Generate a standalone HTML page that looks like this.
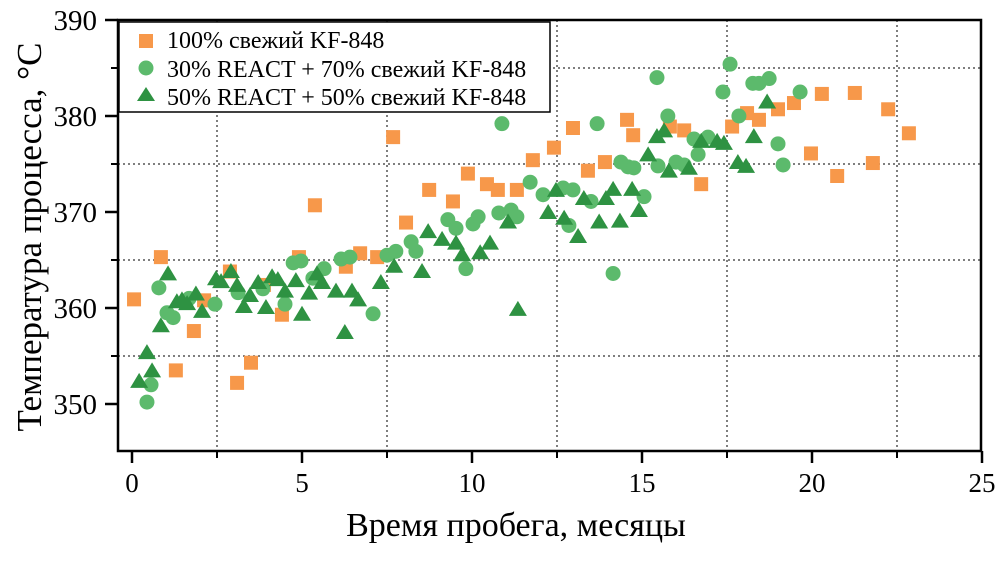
<!DOCTYPE html>
<html><head><meta charset="utf-8"><style>
body{margin:0;background:#fff;}
svg{display:block;font-family:"Liberation Serif",serif;}
</style></head><body>
<svg id="chart" width="1002" height="574" viewBox="0 0 1002 574" xmlns="http://www.w3.org/2000/svg">
<g id="grid"></g>
<g id="marks"></g>
<rect x="118" y="20" width="863" height="431" fill="none" stroke="#000" stroke-width="2.5"/>
<g id="axes"></g>
<text x="516" y="536" font-size="34" text-anchor="middle">Время пробега, месяцы</text>
<text transform="translate(41,237) rotate(-90)" font-size="35" text-anchor="middle">Температура процесса, °C</text>
<g>
<rect x="119" y="22" width="431" height="90" fill="#fff" stroke="#000" stroke-width="1.5"/>
<rect x="139" y="34" width="14" height="14" fill="#F7984A"/>
<text x="167" y="48" font-size="24">100% свежий KF-848</text>
<circle cx="146" cy="68" r="7.5" fill="#5CBA6C"/>
<text x="167" y="77" font-size="24">30% REACT + 70% свежий KF-848</text>
<polygon points="146,87 155,101 137,101" fill="#2E9242"/>
<text x="167" y="105" font-size="24">50% REACT + 50% свежий KF-848</text>
</g>
</svg>
<script>
const xTicks=[0,5,10,15,20,25];
const yTicks=[350,360,370,380,390];
const xGrid=[2.5,7.5,12.5,17.5,22.5];
const yGrid=[355,365,375,385];
const freshX=[0.06,0.85,1.29,1.82,2.12,2.88,3.09,3.5,3.88,4.41,4.91,5.38,6.29,6.71,7.21,7.68,8.06,8.74,9.44,9.88,10.44,10.76,11.32,11.79,12.41,12.97,13.41,13.91,14.56,14.74,15.82,16.24,16.74,17.65,18.09,18.44,19.0,19.47,19.97,20.29,20.74,21.26,21.79,22.24,22.85];
const freshY=[360.9,365.3,353.5,357.6,360.8,363.8,352.2,354.3,362.4,359.3,365.3,370.7,364.3,365.7,365.3,377.8,368.9,372.3,371.1,374.0,372.9,372.3,372.3,375.4,376.7,378.75,374.3,375.2,379.6,378.0,378.9,378.5,372.9,378.9,380.3,379.6,380.7,381.35,376.1,382.3,373.75,382.4,375.1,380.7,378.2];
const r30X=[0.44,0.56,0.79,1.03,1.21,1.68,2.44,3.12,3.85,4.5,4.74,4.97,5.32,5.65,6.15,6.41,7.09,7.5,7.76,8.21,8.35,9.29,9.53,9.82,10.03,10.18,10.79,10.88,11.15,11.32,11.71,12.09,12.68,12.97,12.85,13.5,13.68,14.15,14.38,14.59,14.76,15.06,15.44,15.47,15.76,16.0,16.24,16.53,16.65,16.94,17.38,17.59,17.85,18.26,18.44,18.74,19.0,19.15,19.65];
const r30Y=[350.2,352.0,362.1,359.5,359.0,361.0,360.4,361.6,362.0,360.4,364.7,364.9,363.1,364.1,365.1,365.3,359.4,365.5,365.9,366.9,365.9,369.2,368.3,364.1,368.75,369.5,369.9,379.2,370.2,369.5,373.1,371.8,372.5,372.3,368.6,371.1,379.2,363.6,375.2,374.7,374.6,371.6,384.0,374.8,380.0,375.2,374.9,377.6,376.0,377.8,382.5,385.4,380.0,383.4,383.4,383.9,377.1,374.9,382.5];
const r50X=[0.21,0.44,0.59,0.85,1.06,1.32,1.47,1.62,1.88,2.06,2.47,2.62,2.91,3.09,3.29,3.47,3.71,3.94,4.12,4.29,4.5,4.82,5.0,5.21,5.44,5.59,6.0,6.26,6.47,6.65,7.32,7.71,8.53,8.71,9.12,9.53,9.71,10.24,10.53,11.06,11.35,12.24,12.47,12.71,13.12,13.29,13.74,13.94,14.15,14.35,14.71,14.91,15.18,15.44,15.65,15.79,16.38,16.74,17.21,17.41,17.82,18.06,18.29,18.68];
const r50Y=[352.3,355.3,353.4,358.1,363.5,360.6,360.8,360.4,361.4,359.6,363.0,362.7,363.75,362.3,360.1,361.25,362.6,360.0,363.2,362.9,361.7,362.8,359.3,361.5,363.5,362.6,361.7,357.4,361.7,360.8,362.6,364.3,363.75,367.9,367.1,366.7,365.5,365.7,366.7,368.9,359.8,369.9,372.2,369.3,367.4,371.35,368.9,371.35,372.3,369.0,372.3,370.1,375.9,377.8,378.4,374.2,374.5,377.3,377.3,377.1,375.1,374.7,377.8,381.4];

const NS='http://www.w3.org/2000/svg';
const sx=v=>132+v*34;
const sy=v=>20+(390-v)*9.6;
function mk(tag,attrs,parent){const e=document.createElementNS(NS,tag);for(const k in attrs)e.setAttribute(k,attrs[k]);parent.appendChild(e);return e;}
const grid=document.getElementById('grid'),marks=document.getElementById('marks'),axes=document.getElementById('axes');
xGrid.forEach(v=>{const l=mk('line',{x1:sx(v),x2:sx(v),y1:20,y2:451,stroke:'#555','stroke-width':1.5,'stroke-dasharray':'2,3'},grid);

});
yGrid.forEach(v=>{const l=mk('line',{x1:118,x2:981,y1:sy(v),y2:sy(v),stroke:'#555','stroke-width':1.5,'stroke-dasharray':'2,3'},grid);

});
xTicks.forEach(v=>{const t=mk('line',{x1:sx(v),x2:sx(v),y1:451,y2:463,stroke:'#000','stroke-width':2.5},axes);


const tx=mk('text',{x:sx(v),y:492,'font-size':27,'text-anchor':'middle'},axes);tx.textContent=v;

});
xGrid.forEach(v=>{const t=mk('line',{x1:sx(v),x2:sx(v),y1:451,y2:458,stroke:'#000','stroke-width':2},axes);

});
yTicks.forEach(v=>{const t=mk('line',{x1:105,x2:118,y1:sy(v),y2:sy(v),stroke:'#000','stroke-width':2.5},axes);


const tx=mk('text',{x:97,y:sy(v)+10,'font-size':29,'text-anchor':'end'},axes);tx.textContent=v;

});
yGrid.forEach(v=>{const t=mk('line',{x1:111,x2:118,y1:sy(v),y2:sy(v),stroke:'#000','stroke-width':2},axes);

});
freshX.forEach((v,i)=>{const e=mk('rect',{x:sx(v)-7,y:sy(freshY[i])-7,width:14,height:14,fill:'#F7984A'},marks);

});
r30X.forEach((v,i)=>{const e=mk('circle',{cx:sx(v),cy:sy(r30Y[i]),r:7.5,fill:'#5CBA6C'},marks);

});
r50X.forEach((v,i)=>{const x=sx(v),y=sy(r50Y[i]);const e=mk('polygon',{points:`${x},${y-9} ${x+9},${y+6} ${x-9},${y+6}`,fill:'#2E9242'},marks);

});
</script>
</body></html>
